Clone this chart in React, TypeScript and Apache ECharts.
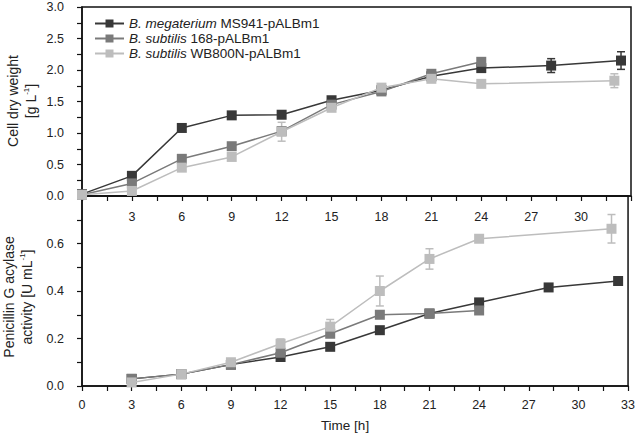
import React, { useEffect, useRef } from "react";
import * as echarts from "echarts";

const COLORS = ["#383838", "#7a7a7a", "#bdbdbd"];
const SPECIES = ["B. megaterium", "B. subtilis", "B. subtilis"];
const STRAINS = ["MS941-pALBm1", "168-pALBm1", "WB800N-pALBm1"];
const NAMES = SPECIES.map((s, i) => s + " " + STRAINS[i]);

// Cell dry weight (top panel)
const cdwTimeA = [0, 3, 6, 9, 12, 15, 18, 21, 24, 28.2, 32.4];
const cdwA = [0.03, 0.32, 1.08, 1.28, 1.29, 1.52, 1.68, 1.9, 2.03, 2.07, 2.15];
const cdwErrA = [0, 0.03, 0.03, 0.05, 0.03, 0.05, 0.03, 0.03, 0.05, 0.11, 0.14];
const cdwTimeB = [0, 3, 6, 9, 12, 15, 18, 21, 24];
const cdwB = [0.02, 0.2, 0.59, 0.79, 1.03, 1.45, 1.66, 1.94, 2.13];
const cdwErrB = [0, 0.02, 0.03, 0.03, 0.03, 0.05, 0.03, 0.04, 0.05];
const cdwTimeC = [0, 3, 6, 9, 12, 15, 18, 21, 24, 32];
const cdwC = [0.02, 0.08, 0.45, 0.62, 1.02, 1.4, 1.72, 1.86, 1.78, 1.83];
const cdwErrC = [0, 0.02, 0.02, 0.03, 0.15, 0.05, 0.05, 0.03, 0.03, 0.11];

// Penicillin G acylase activity (bottom panel)
const pgaTimeA = [3, 6, 9, 12, 15, 18, 21, 24, 28.2, 32.4];
const pgaA = [0.03, 0.05, 0.09, 0.122, 0.165, 0.235, 0.305, 0.352, 0.415, 0.442];
const pgaErrA = [0, 0, 0.005, 0.005, 0.005, 0.008, 0.008, 0.01, 0.008, 0.015];
const pgaTimeB = [3, 6, 9, 12, 15, 18, 21, 24];
const pgaB = [0.03, 0.05, 0.09, 0.14, 0.22, 0.3, 0.305, 0.318];
const pgaErrB = [0, 0, 0.005, 0.01, 0.01, 0.015, 0.01, 0.01];
const pgaTimeC = [3, 6, 9, 12, 15, 18, 21, 24, 32];
const pgaC = [0.015, 0.05, 0.1, 0.178, 0.25, 0.4, 0.535, 0.62, 0.662];
const pgaErrC = [0, 0, 0.01, 0.02, 0.03, 0.063, 0.043, 0.01, 0.06];

const X_TICKS_INTERVAL = 3;

const FONT = "Liberation Sans, Arial, sans-serif";

function zip3(t: number[], v: number[], e: number[]) {
  return t.map((x, i) => [x, v[i], e[i]]);
}

export default function App() {
  const ref = useRef<HTMLDivElement>(null);
  useEffect(() => {
    if (!ref.current) return;
    const chart = echarts.init(ref.current, null, { renderer: "svg" });

    const topData = [
      zip3(cdwTimeA, cdwA, cdwErrA),
      zip3(cdwTimeB, cdwB, cdwErrB),
      zip3(cdwTimeC, cdwC, cdwErrC),
    ];
    const botData = [
      zip3(pgaTimeA, pgaA, pgaErrA),
      zip3(pgaTimeB, pgaB, pgaErrB),
      zip3(pgaTimeC, pgaC, pgaErrC),
    ];

    const errSeries = (data: number[][], color: string, axis: number) => ({
      type: "custom",
      xAxisIndex: axis,
      yAxisIndex: axis,
      z: 1,
      encode: { x: 0, y: 1 },
      data,
      renderItem: (params: any, api: any) => {
        const x = api.value(0);
        const y = api.value(1);
        const e = api.value(2);
        if (!e) return null;
        const p1 = api.coord([x, y + e]);
        const p2 = api.coord([x, y - e]);
        const hw = 4;
        const st = { stroke: color, lineWidth: 1.5 };
        return {
          type: "group",
          children: [
            { type: "line", shape: { x1: p1[0], y1: p1[1], x2: p2[0], y2: p2[1] }, style: st },
            { type: "line", shape: { x1: p1[0] - hw, y1: p1[1], x2: p1[0] + hw, y2: p1[1] }, style: st },
            { type: "line", shape: { x1: p2[0] - hw, y1: p2[1], x2: p2[0] + hw, y2: p2[1] }, style: st },
          ],
        };
      },
    });

    const lineSeries = (data: number[][], i: number, axis: number) => ({
      type: "line",
      name: NAMES[i],
      xAxisIndex: axis,
      yAxisIndex: axis,
      z: 3 + i,
      data: data.map((d) => [d[0], d[1]]),
      symbol: "rect",
      symbolSize: 10,
      lineStyle: { color: COLORS[i], width: 1.5 },
      itemStyle: { color: COLORS[i] },
    });

    const series: any[] = [];
    for (let i = 0; i < 3; i++) series.push(lineSeries(topData[i], i, 0));
    for (let i = 0; i < 3; i++) series.push(lineSeries(botData[i], i, 1));
    for (let i = 0; i < 3; i++) series.push(errSeries(topData[i], COLORS[i], 0));
    for (let i = 0; i < 3; i++) series.push(errSeries(botData[i], COLORS[i], 1));

    const axisCommon = {
      axisLine: { lineStyle: { color: "#111", width: 1.5 } },
      axisTick: { lineStyle: { color: "#111", width: 1.2 }, length: 5 },
      minorTick: { show: true, splitNumber: 2, length: 5, lineStyle: { color: "#111", width: 1.2 } },
      splitLine: { show: false },
      minorSplitLine: { show: false },
    };

    const tickLabel = { fontSize: 12.5, color: "#222", fontFamily: FONT };

    const option: any = {
      animation: false,
      textStyle: { fontFamily: FONT },
      grid: [
        { left: 82, right: 7, top: 7, height: 189, show: true, borderColor: "#111", borderWidth: 1.5, backgroundColor: "transparent" },
        { left: 82, right: 7, top: 196, height: 190, show: true, borderColor: "#111", borderWidth: 1.5, backgroundColor: "transparent" },
      ],
      legend: {
        data: NAMES,
        orient: "vertical",
        left: 94,
        top: 16,
        padding: 0,
        itemWidth: 29,
        itemHeight: 10,
        itemGap: 0,
        textStyle: {
          fontFamily: FONT,
          fontSize: 13.5,
          color: "#222",
          lineHeight: 15,
          rich: {
            it: { fontStyle: "italic", fontFamily: FONT, fontSize: 13.5, color: "#222", lineHeight: 15 },
            n: { fontFamily: FONT, fontSize: 13.5, color: "#222", lineHeight: 15 },
          },
        },
        formatter: (name: string) => {
          const i = NAMES.indexOf(name);
          return "{it|" + SPECIES[i] + "}{n| " + STRAINS[i] + "}";
        },
      },
      xAxis: [
        {
          ...axisCommon,
          type: "value",
          gridIndex: 0,
          min: 0,
          max: 33,
          interval: X_TICKS_INTERVAL,
          axisLabel: { ...tickLabel, showMinLabel: false, showMaxLabel: false, margin: 14 },
        },
        {
          ...axisCommon,
          type: "value",
          gridIndex: 1,
          min: 0,
          max: 33,
          interval: X_TICKS_INTERVAL,
          axisLabel: { ...tickLabel, margin: 12 },
        },
      ],
      yAxis: [
        {
          ...axisCommon,
          type: "value",
          gridIndex: 0,
          min: 0,
          max: 3,
          interval: 0.5,
          axisLabel: { ...tickLabel, margin: 18, formatter: (v: number) => v.toFixed(1) },
        },
        {
          ...axisCommon,
          type: "value",
          gridIndex: 1,
          min: 0,
          max: 0.8,
          interval: 0.2,
          axisLabel: { ...tickLabel, showMaxLabel: false, margin: 18, formatter: (v: number) => v.toFixed(1) },
        },
      ],
      graphic: [
        {
          type: "text",
          x: 22,
          y: 101,
          rotation: Math.PI / 2,
          style: {
            text: "Cell dry weight\n[g L{sup|-1}]",
            fontFamily: FONT,
            fontSize: 14,
            lineHeight: 18,
            fill: "#222",
            align: "center",
            verticalAlign: "middle",
            rich: { sup: { fontSize: 8, fontFamily: FONT, fill: "#222", verticalAlign: "top", lineHeight: 18 } },
          },
        },
        {
          type: "text",
          x: 18,
          y: 297,
          rotation: Math.PI / 2,
          style: {
            text: "Penicillin G acylase\nactivity [U mL{sup|-1}]",
            fontFamily: FONT,
            fontSize: 14,
            lineHeight: 18,
            fill: "#222",
            align: "center",
            verticalAlign: "middle",
            rich: { sup: { fontSize: 8, fontFamily: FONT, fill: "#222", verticalAlign: "top", lineHeight: 18 } },
          },
        },
        {
          type: "text",
          x: 345,
          y: 425,
          style: {
            text: "Time [h]",
            fontFamily: FONT,
            fontSize: 13.5,
            fill: "#222",
            align: "center",
            verticalAlign: "middle",
          },
        },
      ],
      series,
    };
    chart.setOption(option);
    return () => chart.dispose();
  }, []);
  return (
    <div
      ref={ref}
      style={{ position: "fixed", left: 0, top: 0, width: 638, height: 442, background: "#fff" }}
    />
  );
}
